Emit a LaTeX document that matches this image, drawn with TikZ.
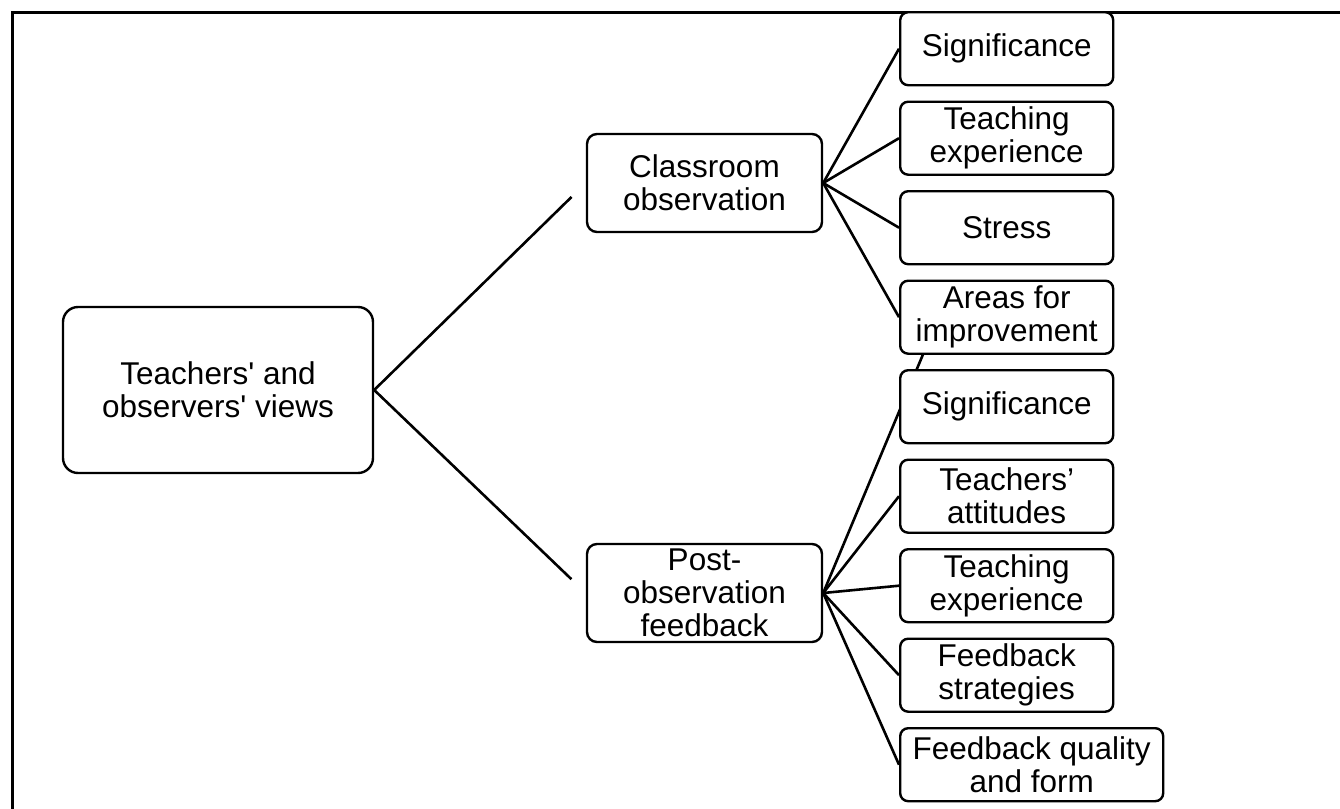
\documentclass[tikz,border=0pt]{standalone}
\usepackage{fontspec}
\setmainfont{Liberation Sans}
\usetikzlibrary{positioning,backgrounds}

\begin{document}
\begin{tikzpicture}[x=0.5pt,y=-0.5pt,line width=1.2pt,node distance=7.05pt,
                    font=\fontsize{15.75}{16.5}\selectfont]
  \tikzstyle{box}=[draw=black,fill=white,rounded corners=4pt,align=center,inner sep=0.5pt]
  \tikzstyle{topic}=[box,rounded corners=5pt,minimum width=117.5pt,minimum height=49pt]
  \tikzstyle{leaf}=[box,minimum width=106.5pt,minimum height=36.5pt]

  \useasboundingbox (0,0) rectangle (1340,809);
  \draw[line width=1.5pt] (1340,12) -- (12,12) -- (12,809);

  \node[box,rounded corners=7.5pt,minimum width=155pt,minimum height=83pt]
        (R) at (218,390) {Teachers\textquotesingle{} and\\observers\textquotesingle{} views};
  \node[topic] (C) at (704.5,183) {Classroom\\observation};
  \node[topic] (P) at (704.5,593) {Post-\\observation\\feedback};

  \node[leaf,anchor=north west] (C1) at (899,11) {Significance};
  \node[leaf] (C2) [below=of C1] {Teaching\\experience};
  \node[leaf] (C3) [below=of C2] {Stress};
  \node[leaf] (C4) [below=of C3] {Areas for\\improvement};
  \node[leaf] (P1) [below=of C4] {Significance};
  \node[leaf] (P2) [below=of P1] {Teachers’\\attitudes};
  \node[leaf] (P3) [below=of P2] {Teaching\\experience};
  \node[leaf] (P4) [below=of P3] {Feedback\\strategies};
  \node[leaf,minimum width=131.5pt] (P5) [below=of P4.south west,anchor=north west]
        {Feedback quality\\and form};
  \coordinate (H) at (924,352);

  \begin{scope}[on background layer,every edge/.style={draw,line width=1.3pt}]
    \path (R.east) edge[shorten >=10pt] (C.west)
                   edge[shorten >=10pt] (P.west)
          (C.east) edge (C1.west)
                   edge (C2.west)
                   edge (C3.west)
                   edge (C4.west)
          (P.east) edge (H)
                   edge (P2.west)
                   edge (P3.west)
                   edge (P4.west)
                   edge (P5.west);
  \end{scope}
\end{tikzpicture}
\end{document}
